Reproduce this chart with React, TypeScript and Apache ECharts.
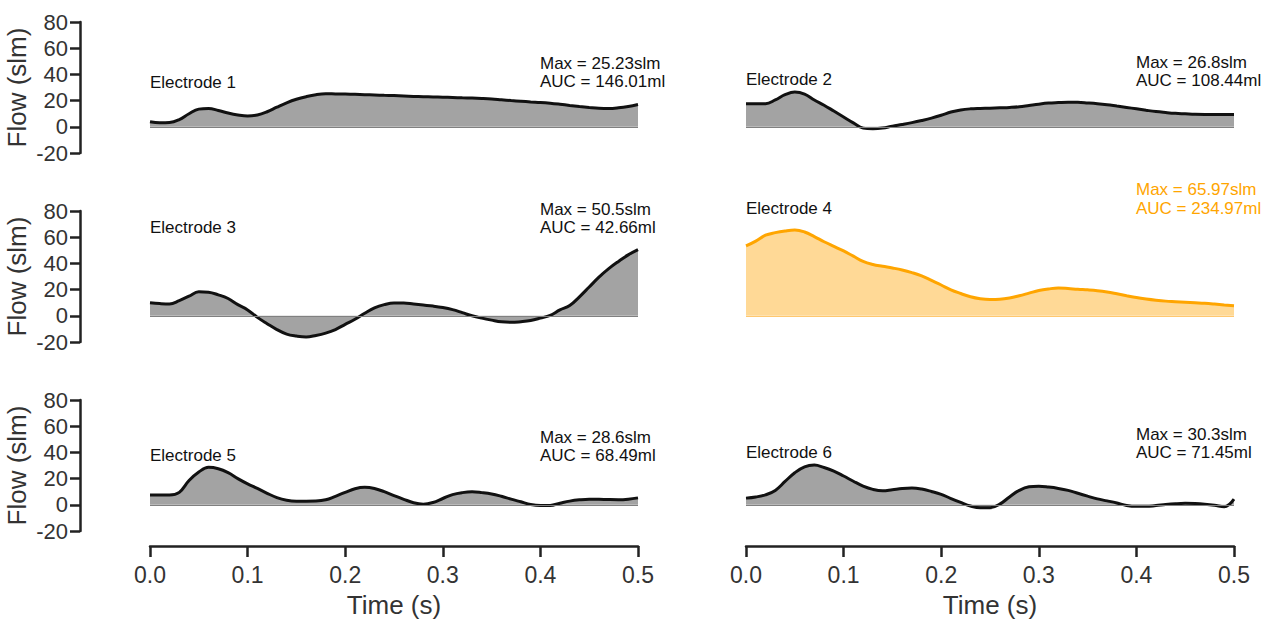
import React, { useEffect, useRef } from "react";
import * as echarts from "echarts";

const TIME = [
  0, 0.01, 0.02, 0.03, 0.04, 0.05, 0.06, 0.07, 0.08, 0.09,
  0.1, 0.11, 0.12, 0.13, 0.14, 0.15, 0.16, 0.17, 0.18, 0.19,
  0.2, 0.21, 0.22, 0.23, 0.24, 0.25, 0.26, 0.27, 0.28, 0.29,
  0.3, 0.31, 0.32, 0.33, 0.34, 0.35, 0.36, 0.37, 0.38, 0.39,
  0.4, 0.41, 0.42, 0.43, 0.44, 0.45, 0.46, 0.47, 0.48, 0.49, 0.5,
];

const E1 = [
  3.8, 3.0, 3.2, 5.5, 10, 13.5, 14, 12.5, 10.5, 9,
  8.2, 9, 11.5, 15, 18.3, 21, 23, 24.5, 25.2, 25.1,
  25, 24.8, 24.5, 24.3, 24, 23.8, 23.5, 23.2, 23, 22.8,
  22.6, 22.4, 22.1, 21.9, 21.6, 21.2, 20.6, 20, 19.5, 19,
  18.6, 18, 17.2, 16.3, 15.5, 14.8, 14.2, 14, 14.5, 15.5, 17,
];
const E2 = [
  17.6, 17.6, 17.6, 20.5, 24.5, 26.5, 25, 20.5, 16.5, 12,
  7.5, 3, -1, -1.5, -1, 0.5, 1.8, 3.2, 4.8, 6.6,
  8.8, 11.3, 12.9, 13.7, 14, 14.2, 14.5, 14.8, 15.3, 16.3,
  17.3, 18.1, 18.5, 18.8, 18.7, 18.2, 17.6, 16.8, 15.8, 14.8,
  13.7, 12.6, 11.6, 10.9, 10.3, 9.9, 9.5, 9.4, 9.4, 9.4, 9.4,
];
const E3 = [
  9.9, 9.3, 9, 11.6, 15, 18.3, 18, 16, 13.2, 8.5,
  4.5, -1.2, -6, -10.5, -14, -15.5, -16.2, -15, -13.2, -10.5,
  -6.5, -2.6, 2, 6, 8.5, 9.8, 9.8, 9, 8.2, 7.4,
  6.3, 4.7, 2.4, 0, -1.8, -3.3, -4.6, -5, -4.5, -3.6,
  -1.8, 0.3, 4.5, 7.8, 14.5, 22, 29.5, 36, 41.5, 46.5, 50.5,
];
const E4 = [
  53.3, 57, 61.5, 63.5, 64.8, 65.5, 64, 60.5, 56.5, 53,
  49.5, 45.5, 41.5, 39.2, 37.8, 36.5, 35, 33, 30.5, 27,
  23.5, 19.8, 17, 14.5, 13, 12.4, 12.6, 13.6, 15.3, 17.3,
  19.3, 20.5, 21.2, 20.8, 20.2, 19.8, 19.2, 18.2, 16.8, 15.3,
  13.9, 12.8, 11.9, 11.2, 10.8, 10.4, 10, 9.6, 9, 8.3, 7.7,
];
const E5 = [
  7.4, 7.4, 7.4, 9.5, 18.5, 25, 28.6, 27.5, 24.5, 20,
  16, 12.5, 8.8, 5.5, 3.5, 2.8, 2.8, 2.9, 3.8, 6.5,
  9.5, 12.3, 13.4, 12.5, 10, 7, 4.2, 1.6, 0.5, 1.8,
  4.8, 7.8, 9.3, 9.9, 9.3, 8.3, 6.5, 4.3, 2.3, 0.3,
  -0.5, -0.5, 1.2, 2.8, 3.8, 4.3, 4.2, 4, 3.9, 4.3, 5.3,
];
const E6 = [
  5.1, 6, 7.6, 11, 17.8, 24.5, 29, 30.3, 28.5, 25.8,
  22, 18, 14.3, 11.8, 10.7, 11.5, 12.4, 12.8, 12, 10.2,
  8, 4.8, 1.8, -0.9, -2.3, -2.3, 0.5, 6, 11, 13.7,
  14.1, 13.5, 12.5, 11, 8.8, 6.6, 4.5, 3, 1.4, -0.5,
  -1.2, -1.2, -0.6, 0.2, 0.8, 1.1, 0.9, 0.4, -0.4, -1.5, 4.3,
];

const SERIES_VALUES = [E1, E2, E3, E4, E5, E6];
const ELECTRODES = ["Electrode 1", "Electrode 2", "Electrode 3", "Electrode 4", "Electrode 5", "Electrode 6"];
const MAX_LABELS = ["Max = 25.23slm", "Max = 26.8slm", "Max = 50.5slm", "Max = 65.97slm", "Max = 28.6slm", "Max = 30.3slm"];
const AUC_LABELS = ["AUC = 146.01ml", "AUC = 108.44ml", "AUC = 42.66ml", "AUC = 234.97ml", "AUC = 68.49ml", "AUC = 71.45ml"];
const HIGHLIGHT = [false, false, false, true, false, false];
const Y_MIN = -20;
const Y_MAX = 80;
const Y_STEP = 20;
const X_MIN = 0;
const X_MAX = 0.5;
const X_STEP = 0.1;

const FONT = "'Liberation Sans', Arial, Helvetica, sans-serif";

export default function App() {
  const ref = useRef<HTMLDivElement>(null);
  useEffect(() => {
    const chart = echarts.init(ref.current!, null, { renderer: "svg" });
    const lefts = [150, 746];
    const tops = [22, 211, 400];
    const W = 488;
    const H = 131;
    const axisColor = "#222";
    const labelColor = "#333";

    const grids: any[] = [];
    const xAxes: any[] = [];
    const yAxes: any[] = [];
    const series: any[] = [];
    const graphics: any[] = [];

    const elecY = [[82, 79], [227, 208], [455, 452]];
    const maxY = [[63, 62], [209, 189], [437, 434]];
    const aucY = [[81, 80], [227, 208], [455, 452]];
    const textX = [540, 1136];

    for (let i = 0; i < 6; i++) {
      const row = Math.floor(i / 2);
      const col = i % 2;
      grids.push({ left: lefts[col], top: tops[row], width: W, height: H, containLabel: false, outerBoundsMode: "none" });
      const showX = row === 2;
      const showY = col === 0;
      xAxes.push({
        type: "value",
        gridIndex: i,
        min: X_MIN,
        max: X_MAX,
        interval: X_STEP,
        show: showX,
        offset: 15,
        splitLine: { show: false },
        axisLine: { show: true, onZero: false, lineStyle: { color: axisColor, width: 2.5 } },
        axisTick: { show: true, length: 11, lineStyle: { color: axisColor, width: 2.5 } },
        axisLabel: {
          fontSize: 23,
          color: labelColor,
          fontFamily: FONT,
          margin: 17,
          formatter: (v: number) => v.toFixed(1),
        },
        name: "Time (s)",
        nameLocation: "middle",
        nameGap: 46,
        nameTextStyle: { fontSize: 26, color: labelColor, fontFamily: FONT },
      });
      yAxes.push({
        type: "value",
        gridIndex: i,
        min: Y_MIN,
        max: Y_MAX,
        interval: Y_STEP,
        show: showY,
        offset: 70,
        splitLine: { show: false },
        axisLine: { show: true, onZero: false, lineStyle: { color: axisColor, width: 2.5 } },
        axisTick: { show: true, length: 10, lineStyle: { color: axisColor, width: 2.5 } },
        axisLabel: { fontSize: 22, color: labelColor, fontFamily: FONT, margin: 12 },
        name: "Flow (slm)",
        nameLocation: "middle",
        nameGap: 50,
        nameTextStyle: { fontSize: 26, color: labelColor, fontFamily: FONT },
      });
      const hl = HIGHLIGHT[i];
      const vals = SERIES_VALUES[i];
      series.push({
        type: "line",
        xAxisIndex: i,
        yAxisIndex: i,
        data: TIME.map((t, j) => [t, vals[j]]),
        smooth: 0.4,
        symbol: "none",
        showSymbol: false,
        lineStyle: { color: hl ? "#FFA500" : "#111", width: 3 },
        areaStyle: { color: hl ? "#FFD996" : "#a3a3a3", opacity: 1, origin: "auto" },
        markLine: {
          silent: true,
          symbol: ["none", "none"],
          label: { show: false },
          lineStyle: { color: hl ? "#FFC870" : "#808080", width: 1, type: "solid" },
          data: [{ yAxis: 0 }],
          animation: false,
        },
        z: 2,
      });
      const txtColor = hl ? "#FFA500" : "#111";
      graphics.push({
        type: "text",
        x: lefts[col],
        y: elecY[row][col],
        style: { text: ELECTRODES[i], fontSize: 17, fontFamily: FONT, fill: "#111", textVerticalAlign: "middle", verticalAlign: "middle" },
      });
      graphics.push({
        type: "text",
        x: textX[col],
        y: maxY[row][col],
        style: { text: MAX_LABELS[i], fontSize: 17, fontFamily: FONT, fill: txtColor, textVerticalAlign: "middle", verticalAlign: "middle" },
      });
      graphics.push({
        type: "text",
        x: textX[col],
        y: aucY[row][col],
        style: { text: AUC_LABELS[i], fontSize: 17, fontFamily: FONT, fill: txtColor, textVerticalAlign: "middle", verticalAlign: "middle" },
      });
    }

    chart.setOption({
      animation: false,
      backgroundColor: "#fff",
      grid: grids,
      xAxis: xAxes,
      yAxis: yAxes,
      series,
      graphic: graphics,
    });
    return () => chart.dispose();
  }, []);
  return <div ref={ref} style={{ position: "fixed", left: 0, top: 0, width: 1282, height: 621 }} />;
}
